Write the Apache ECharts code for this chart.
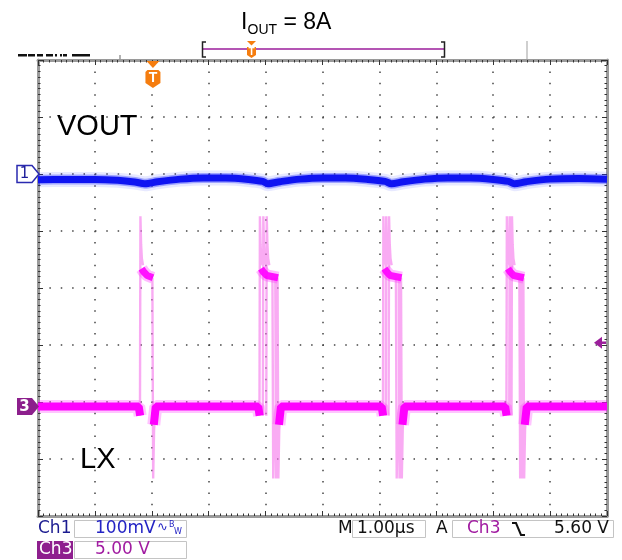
<!DOCTYPE html>
<html>
<head>
<meta charset="utf-8">
<script src="https://cdn.jsdelivr.net/npm/echarts@6/dist/echarts.min.js"></script>
<style>
html,body{margin:0;padding:0;background:#fff;}
#c{width:622px;height:560px;}
</style>
</head>
<body>
<div id="c"></div>
<script>
// ---------------- values ----------------
// horizontal: 1.00 µs / div, 10 divisions
const timeMin = 0, timeMax = 10;          // µs
const divMin = -4, divMax = 4;            // vertical divisions
const ch1Scale = 100;                     // mV / div
const ch3Scale = 5;                       // V / div
const ch1OffsetDiv = 2.0;                 // ground marker "1" position (div)
const ch3OffsetDiv = -2.08;               // ground marker "3" position (div)
const triggerTime = 2.02;                 // µs  (orange T)
const triggerLevel = 5.6;                 // V   (Ch3 falling, 5.60 V)

// Ch1: VOUT ripple (AC coupled), mV
const ch1Time = [0, 0.5, 1.0, 1.4, 1.7, 1.88, 2.1, 2.5, 2.9, 3.3, 3.7, 3.95, 4.04, 4.25, 4.6, 5.0, 5.4, 5.8, 6.1, 6.21, 6.42, 6.8, 7.2, 7.6, 8.0, 8.27, 8.37, 8.58, 9.0, 9.5, 10];
const ch1mV   = [-10, -9.5, -9.5, -11, -14, -17, -13.5, -9, -7, -7, -9.5, -13, -17, -13.5, -9, -7, -7, -9.5, -13, -17, -13.5, -9, -7, -7, -9.5, -13, -17, -13.5, -9, -8, -9];

// Ch3: LX switch node, edge times (µs) per pulse (several overlaid acquisitions)
const lxRise = [[1.80], [3.90, 3.96, 4.02], [6.07, 6.12, 6.17], [8.24, 8.29, 8.33]];
const lxFall = [[2.02], [4.13, 4.18, 4.22], [6.30, 6.35, 6.39], [8.47, 8.50, 8.54]];
// Ch3 levels (V)
const lxBaseV = 0;
const lxPreDipV = -0.8;
const lxPostDipV = -1.6;
const lxSpikeV = 16.7;
const lxRingV = [14.2, 13.0, 12.4];
const lxPlateauV = [12.1, 11.8, 11.5, 11.3];   // on-time: start .. end
const lxUndershootV = -6.3;
const lxRecoverV = -2.0;

// ---------------- tables built from the values ----------------
const ch1Data = ch1Time.map((t, i) => [t, ch1mV[i]]);

const lxBase = [[timeMin, lxBaseV]];
lxRise.forEach((g, i) => {
  const r = g[0];
  const f = lxFall[i][lxFall[i].length - 1];
  lxBase.push([r - 0.03, lxBaseV], [r - 0.005, lxPreDipV], [r - 0.004, null]);
  lxBase.push([f + 0.015, lxPostDipV], [f + 0.05, lxBaseV]);
});
lxBase.push([timeMax, lxBaseV]);

const lxEdges = [];
lxRise.forEach(g => g.forEach(r => {
  lxEdges.push([r - 0.008, lxPreDipV], [r, lxSpikeV], [r + 0.012, lxRingV[0]],
               [r + 0.025, lxRingV[1]], [r + 0.045, lxRingV[2]], [r + 0.045, null]);
}));
lxFall.forEach(g => g.forEach(f => {
  lxEdges.push([f - 0.01, lxPlateauV[3]], [f + 0.004, lxUndershootV], [f + 0.02, lxRecoverV],
               [f + 0.05, lxBaseV], [f + 0.05, null]);
}));

const lxPlateau = [];
lxRise.forEach((g, i) => {
  const r = g[0];
  const f = lxFall[i][lxFall[i].length - 1];
  lxPlateau.push([r + 0.02, lxPlateauV[0]], [r + 0.06, lxPlateauV[1]], [r + 0.12, lxPlateauV[2]],
                 [f, lxPlateauV[3]], [f, null]);
});

// ---------------- chart ----------------
const chart = echarts.init(document.getElementById('c'), null, {renderer: 'canvas'});
const GRID = {left: 38, top: 60, width: 569, height: 456};
const frameColor = '#9a9a9a';
const tickColor = '#333';
const dotStyle = {color: '#444', width: 1.5, type: [1.5, 9.88]};

function frameAxis(pos, isX, withSplit) {
  return {
    type: 'value',
    position: pos,
    min: isX ? timeMin : divMin,
    max: isX ? timeMax : divMax,
    interval: 1,
    axisLine: {show: true, onZero: false, lineStyle: {color: frameColor, width: 3}},
    axisTick: {show: true, inside: true, length: 5, lineStyle: {color: tickColor, width: 1}},
    minorTick: {show: true, splitNumber: 10, length: 2.5, lineStyle: {color: tickColor, width: 1}},
    axisLabel: {show: false},
    splitLine: {show: withSplit, lineStyle: dotStyle},
    minorSplitLine: {show: false}
  };
}

const option = {
  animation: false,
  backgroundColor: '#fff',
  grid: Object.assign({containLabel: false, outerBoundsMode: 'none'}, GRID),
  xAxis: [frameAxis('bottom', true, true), frameAxis('top', true, false)],
  yAxis: [
    frameAxis('left', false, true),
    frameAxis('right', false, false),
    {type: 'value', show: false, min: (divMin - ch1OffsetDiv) * ch1Scale, max: (divMax - ch1OffsetDiv) * ch1Scale},
    {type: 'value', show: false, min: (divMin - ch3OffsetDiv) * ch3Scale, max: (divMax - ch3OffsetDiv) * ch3Scale}
  ],
  series: [
    {type: 'line', name: 'VOUT fuzz', xAxisIndex: 0, yAxisIndex: 2, data: ch1Data, showSymbol: false, silent: true,
     smooth: 0.3, lineStyle: {color: 'rgba(60,70,255,0.12)', width: 15}, z: 3},
    {type: 'line', name: 'VOUT halo', xAxisIndex: 0, yAxisIndex: 2, data: ch1Data, showSymbol: false, silent: true,
     smooth: 0.3, lineStyle: {color: 'rgba(30,40,255,0.35)', width: 10}, z: 3},
    {type: 'line', name: 'VOUT', xAxisIndex: 0, yAxisIndex: 2, data: ch1Data, showSymbol: false, silent: true,
     smooth: 0.3, lineStyle: {color: '#0f14f2', width: 7}, z: 4},
    {type: 'line', name: 'LX edges', xAxisIndex: 0, yAxisIndex: 3, data: lxEdges, showSymbol: false, silent: true,
     connectNulls: false, lineStyle: {color: 'rgba(245,120,236,0.62)', width: 2.4}, z: 3},
    {type: 'line', name: 'LX on halo', xAxisIndex: 0, yAxisIndex: 3, data: lxPlateau, showSymbol: false, silent: true,
     connectNulls: false, lineStyle: {color: 'rgba(255,60,255,0.35)', width: 12}, z: 3},
    {type: 'line', name: 'LX on', xAxisIndex: 0, yAxisIndex: 3, data: lxPlateau, showSymbol: false, silent: true,
     connectNulls: false, lineStyle: {color: 'rgba(255,0,255,0.9)', width: 7}, z: 4},
    {type: 'line', name: 'LX halo', xAxisIndex: 0, yAxisIndex: 3, data: lxBase, showSymbol: false, silent: true,
     connectNulls: false, lineStyle: {color: 'rgba(255,60,255,0.3)', width: 13}, z: 3},
    {type: 'line', name: 'LX', xAxisIndex: 0, yAxisIndex: 3, data: lxBase, showSymbol: false, silent: true,
     connectNulls: false, lineStyle: {color: '#ff00ff', width: 8}, z: 4}
  ]
};
chart.setOption(option);

// ---------------- annotations ----------------
const xTrig = chart.convertToPixel({xAxisIndex: 0}, triggerTime);
const yG1 = chart.convertToPixel({yAxisIndex: 2}, 0);
const yG3 = chart.convertToPixel({yAxisIndex: 3}, 0);
const yTL = chart.convertToPixel({yAxisIndex: 3}, triggerLevel);
const xRight = chart.convertToPixel({xAxisIndex: 0}, timeMax);

const SANS = '"Liberation Sans", Arial, sans-serif';
const TEK = '"DejaVu Sans", sans-serif';
function txt(x, y, s, size, color, family, extra) {
  return Object.assign({type: 'text', x: x, y: y, z: 100,
    style: Object.assign({text: s, fontSize: size, fontFamily: family || SANS, fill: color || '#000',
      verticalAlign: 'middle', align: 'left'}, extra || {})});
}
function rect(x, y, w, h, style) { return {type: 'rect', z: 90, shape: {x: x, y: y, width: w, height: h}, style: style}; }
function poly(points, style, closed) {
  return {type: closed ? 'polygon' : 'polyline', z: 95, shape: {points: points}, style: style};
}

const g = [];
// title
g.push(txt(241, 22.5, 'I', 23));
g.push(txt(247.5, 30, 'OUT', 14));
g.push(txt(283.5, 22.5, '= 8A', 23));
// channel labels inside the screen
g.push(txt(57, 127, 'VOUT', 29));
g.push(txt(80, 460, 'LX', 29));

// cropped text fragments at top-left
[[18, 9], [28, 7], [37, 6], [46, 7], [55, 2], [60, 2], [63, 4], [72, 18]].forEach(p => {
  g.push(rect(p[0], 54, p[1], 2.5, {fill: '#111'}));
});
// gray marks above the screen
g.push(poly([[120, 55], [120, 60]], {stroke: '#999', lineWidth: 1.5}));
g.push(poly([[527, 41], [527, 59]], {stroke: '#cfcfcf', lineWidth: 2}));

// record bar
g.push(poly([[203, 49], [444, 49]], {stroke: '#9b1d9b', lineWidth: 1.6}));
g.push(poly([[206, 42], [202.5, 42], [202.5, 57], [206, 57]], {stroke: '#222', lineWidth: 1.5, fill: null}));
g.push(poly([[441, 42], [444.5, 42], [444.5, 57], [441, 57]], {stroke: '#222', lineWidth: 1.5, fill: null}));
// small orange T on record bar
const orange = '#f57d0f';
g.push(poly([[247, 41], [256, 41], [251.5, 45.5]], {fill: orange}, true));
g.push(poly([[247, 47], [256, 47], [256, 55], [251.5, 58], [247, 55]], {fill: orange}, true));
g.push(txt(251.5, 52, 'T', 10, '#fff', SANS, {align: 'center', fontWeight: 'bold'}));

// trigger position marker
g.push(poly([[xTrig - 6.5, 61], [xTrig + 6.5, 61], [xTrig, 68]], {fill: orange}, true));
g.push(poly([[xTrig - 7.5, 72], [xTrig - 5.5, 70], [xTrig + 5.5, 70], [xTrig + 7.5, 72], [xTrig + 7.5, 83],
             [xTrig, 88], [xTrig - 7.5, 83]], {fill: orange}, true));
g.push(txt(xTrig, 78.5, 'T', 14, '#fff', SANS, {align: 'center', fontWeight: 'bold'}));

// trigger level marker (right)
g.push(poly([[xRight - 13, yTL], [xRight - 5, yTL - 6], [xRight - 5, yTL + 6]], {fill: '#9c1f9c'}, true));
g.push(poly([[xRight - 6, yTL], [xRight - 1, yTL]], {stroke: '#9c1f9c', lineWidth: 2.5}));

// channel ground markers
g.push(poly([[17, yG1 - 8.5], [32, yG1 - 8.5], [39, yG1], [32, yG1 + 8.5], [17, yG1 + 8.5]],
            {fill: '#fff', stroke: '#2a2ab0', lineWidth: 1.5}, true));
g.push(txt(24.5, yG1 + 0.5, '1', 15, '#1c1c9a', TEK, {align: 'center'}));
g.push(poly([[17, yG3 - 8.5], [32, yG3 - 8.5], [39, yG3], [32, yG3 + 8.5], [17, yG3 + 8.5]],
            {fill: '#8c1f8c'}, true));
g.push(txt(24.5, yG3 + 0.5, '3', 15, '#fff', TEK, {align: 'center', fontWeight: 'bold'}));

// status bar
const boxStroke = {fill: null, stroke: '#c4c4c4', lineWidth: 1};
const r1 = 529, r2 = 550;
g.push(txt(38, r1, 'Ch1', 17, '#1b1b90', TEK));
g.push(rect(74.5, 520.5, 112, 17, boxStroke));
g.push(txt(95, r1, '100mV', 17, '#2424c4', TEK));
g.push(txt(157, r1 - 1, '\u223F', 13, '#2424c4', TEK));
g.push(txt(169, r1 - 4, 'B', 8, '#2424c4', TEK));
g.push(txt(174, r1 + 3, 'W', 8, '#2424c4', TEK));
g.push(txt(338, r1, 'M', 17, '#111', TEK));
g.push(rect(352.5, 520.5, 73, 17, boxStroke));
g.push(txt(357, r1, '1.00\u00B5s', 17, '#111', TEK));
g.push(txt(436, r1, 'A', 17, '#111', TEK));
g.push(rect(452.5, 520.5, 161, 17, boxStroke));
g.push(txt(467, r1, 'Ch3', 17, '#a11ca1', TEK));
g.push(poly([[512, 523], [516, 523], [521, 535], [525, 535]], {stroke: '#111', lineWidth: 2, fill: null}));
g.push(txt(609, r1, '5.60 V', 17, '#111', TEK, {align: 'right'}));
g.push(rect(37, 541, 36, 18, {fill: '#8e1f8e'}));
g.push(txt(39, r2, 'Ch3', 17, '#fff', TEK));
g.push(rect(74.5, 541.5, 112, 17, boxStroke));
g.push(txt(95, r2, '5.00 V', 17, '#a11ca1', TEK));

chart.setOption({graphic: g});
</script>
</body>
</html>
